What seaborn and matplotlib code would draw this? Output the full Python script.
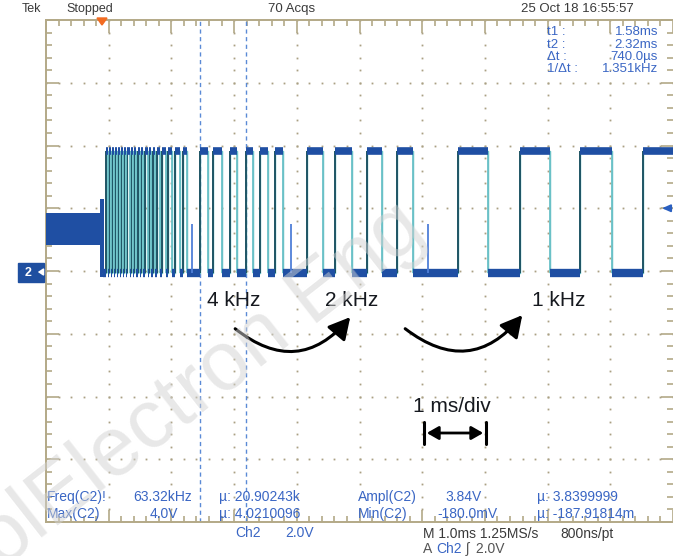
import numpy as np
import pandas as pd
import matplotlib
matplotlib.use("Agg")
import matplotlib.pyplot as plt
import seaborn as sns
from matplotlib import font_manager
from matplotlib.patches import FancyArrowPatch, Rectangle, Polygon

# ---------------- data (time in ms from trigger, volts) ----------------
high_start_ms = [0.080, 0.128, 0.175, 0.223, 0.271, 0.319, 0.367, 0.415, 0.478, 0.534,
                 0.590, 0.646, 0.702, 0.766, 0.829, 0.893, 0.973, 1.069, 1.180, 1.308,
                 1.579, 1.786, 2.057, 2.313, 2.536, 2.775,
                 3.285, 3.732, 4.242, 4.721,
                 5.694, 6.683, 7.640, 8.644]
high_end_ms = [0.112, 0.159, 0.207, 0.255, 0.303, 0.351, 0.399, 0.455, 0.510, 0.566,
               0.622, 0.678, 0.742, 0.805, 0.869, 0.941, 1.037, 1.140, 1.260, 1.372,
               1.707, 1.930, 2.169, 2.424, 2.663, 2.903,
               3.541, 4.003, 4.482, 4.976,
               6.172, 7.161, 8.150, 9.300]
high_v = 3.82
low_v = -0.05
signal_start_ms = 0.03
pre_noise_t = [-0.877, 0.03]
pre_noise_lo = [0.83, 0.83]
pre_noise_hi = [1.85, 1.85]
glitch_ms = [1.451, 3.030, 5.215]
glitch_top_v = 1.5
cursor_ms = [1.58, 2.32]
trigger_level_v = 2.0
annot_labels = ["4 kHz", "2 kHz", "1 kHz"]

# ---------------- style ----------------
sns.set_style("white")
names = {f.name for f in font_manager.fontManager.ttflist}
NARROW = "Liberation Sans Narrow" if "Liberation Sans Narrow" in names else "Liberation Sans"
plt.rcParams["font.family"] = ["Liberation Sans", "DejaVu Sans"]

W, H = 673, 556
fig = plt.figure(figsize=(W / 100, H / 100), dpi=100)
fig.patch.set_facecolor("white")


def P(x, y):
    return (x / W, 1 - y / H)


ax = fig.add_axes([46 / W, 1 - 522 / H, 627 / W, 502 / H])
x0 = -0.877
ax.set_xlim(x0, x0 + 10)
ax.set_ylim(-8, 8)

tan = "#b3a987"
for s in ax.spines.values():
    s.set_color(tan)
    s.set_linewidth(1.4)
ax.spines["right"].set_visible(False)
ax.set_xticks(x0 + np.arange(11))
ax.set_xticks(x0 + np.arange(51) / 5, minor=True)
ax.set_yticks(np.arange(-8, 8.1, 2))
ax.set_yticks(np.arange(-8, 8.01, 0.4), minor=True)
ax.tick_params(which="both", direction="in", top=True, right=True, bottom=True, left=True,
               labelbottom=False, labelleft=False, color=tan, width=1.2)
ax.tick_params(which="major", length=9)
ax.tick_params(which="minor", length=4)

# graticule dots
dx, dy = [], []
for k in range(1, 10):
    for j in range(0, 41):
        dx.append(x0 + k)
        dy.append(-8 + j * 0.4)
for k in range(1, 8):
    for j in range(0, 51):
        dx.append(x0 + j / 5)
        dy.append(-8 + 2 * k)
ax.plot(dx, dy, ls="none", marker="s", ms=1.3, mew=0, color="#aaa083", zorder=1)

# cursors
for c in cursor_ms:
    ax.axvline(c, color="#5b8ad6", lw=1.0, ls=(0, (3, 2.5)), zorder=2)

# ---------------- waveform ----------------
blue = "#1f4fa3"
ax.fill_between(pre_noise_t, pre_noise_lo, pre_noise_hi, color=blue, lw=0, zorder=3)
ax.fill_between([-0.01, 0.05], [-0.2, -0.2], [2.3, 2.3], color=blue, lw=0, zorder=3)

t = [signal_start_ms]
v = [low_v]
for s, e in zip(high_start_ms, high_end_ms):
    t += [s, s, e, e]
    v += [low_v, high_v, high_v, low_v]
df = pd.DataFrame({"t": t, "v": v})
sns.lineplot(data=df, x="t", y="v", sort=False, estimator=None, color="#5fb8bf", lw=1.0,
             ax=ax, zorder=4)

ax.vlines(high_start_ms, low_v, high_v, color="#1f5565", lw=1.4, zorder=5)
ax.vlines(high_end_ms, low_v, high_v, color="#6cc2c8", lw=1.3, zorder=5)
ax.hlines([high_v] * len(high_start_ms), high_start_ms, high_end_ms, color=blue, lw=5.5,
          zorder=6)
low_starts = [signal_start_ms] + high_end_ms[:-1]
low_ends = high_start_ms
ax.hlines([low_v] * len(low_starts), low_starts, low_ends, color=blue, lw=6, zorder=6)
ax.vlines(glitch_ms, low_v, glitch_top_v, color="#4f7fd8", lw=1.3, zorder=6)
ax.set_xlabel("")
ax.set_ylabel("")

# trigger level arrow (right)
ax.annotate("", xy=(x0 + 9.78, trigger_level_v), xytext=(x0 + 10.02, trigger_level_v),
            arrowprops=dict(arrowstyle="-|>,head_length=0.5,head_width=0.22", color="#2a5fc0",
                            lw=1.3), annotation_clip=False, zorder=7)

# ---------------- ground marker and trigger position ----------------
fig.patches.append(Rectangle(P(18, 282), 26 / W, 19 / H, transform=fig.transFigure,
                             color="#1f4fa0", zorder=5))
fig.text(*P(28, 272.5), "2", color="white", fontsize=9, fontweight="bold", ha="center",
         va="center", family=[NARROW, "DejaVu Sans"], zorder=9)
fig.patches.append(FancyArrowPatch(P(44, 272), P(35, 272), transform=fig.transFigure,
                                   arrowstyle="-|>,head_length=3,head_width=2", color="white",
                                   lw=1.2, zorder=9))
fig.patches.append(Polygon([P(97, 18), P(107, 18), P(102, 25)], closed=True,
                           transform=fig.transFigure, color="#f26b21", zorder=6))

# ---------------- top bar texts ----------------
top_c = "#3a3a3a"
fkw = dict(family=[NARROW, "DejaVu Sans"], va="center")
fig.text(*P(22, 9), "Tek", color=top_c, fontsize=9, **fkw)
fig.text(*P(66, 9), "Stopped", color=top_c, fontsize=9, **fkw)
fig.text(*P(268, 9), "70 Acqs", color=top_c, fontsize=9.5, **fkw)
fig.text(*P(521, 9), "25 Oct 18 16:55:57", color=top_c, fontsize=9.5, **fkw)

# cursor readouts
rc = "#3a66c4"
cur_labels = ["t1 :", "t2 :", "\u0394t :", "1/\u0394t :"]
cur_vals = ["1.58ms", "2.32ms", "740.0\u00b5s", "1.351kHz"]
for i, (lab, val) in enumerate(zip(cur_labels, cur_vals)):
    y = 32 + i * 12.5
    fig.text(*P(547, y), lab, color=rc, fontsize=9.5, **fkw)
    fig.text(*P(658, y), val, color=rc, fontsize=9.5, ha="right",
             family=[NARROW, "DejaVu Sans"], va="center")

# bottom measurement readouts
meas = [
    (47, 497, "Freq(C2)!"), (133, 497, "63.32kHz"), (219, 497, "\u00b5: 20.90243k"),
    (358, 497, "Ampl(C2)"), (445, 497, "3.84V"), (537, 497, "\u00b5: 3.8399999"),
    (47, 514, "Max(C2)"), (150, 514, "4.0V"), (219, 514, "\u00b5: 4.0210096"),
    (358, 514, "Min(C2)"), (437, 514, "-180.0mV"), (537, 514, "\u00b5: -187.91814m"),
]
for x, y, s in meas:
    fig.text(*P(x, y), s, color=rc, fontsize=10, **fkw)

fig.text(*P(235, 533), "Ch2", color=rc, fontsize=10, **fkw)
fig.text(*P(285, 533), "2.0V", color=rc, fontsize=10, **fkw)
fig.text(*P(423, 534), "M 1.0ms 1.25MS/s", color=top_c, fontsize=10, **fkw)
fig.text(*P(560, 534), "800ns/pt", color=top_c, fontsize=10, **fkw)
fig.text(*P(423, 549), "A", color="#555555", fontsize=10, **fkw)
fig.text(*P(436, 549), "Ch2", color=rc, fontsize=10, **fkw)
fig.text(*P(466, 549), "\u0283  2.0V", color="#555555", fontsize=10, **fkw)

# ---------------- annotations ----------------
ac = "#16191f"
fig.text(*P(207, 301), annot_labels[0], color=ac, fontsize=15, va="center")
fig.text(*P(325, 301), annot_labels[1], color=ac, fontsize=15, va="center")
fig.text(*P(532, 301), annot_labels[2], color=ac, fontsize=15, va="center")
fig.text(*P(413, 407), "1 ms/div", color=ac, fontsize=15, va="center")

for a, b in [((233, 327), (352, 315)), ((403, 327), (524, 313))]:
    fig.patches.append(FancyArrowPatch(P(*a), P(*b), transform=fig.transFigure,
                                       connectionstyle="arc3,rad=0.5",
                                       arrowstyle="-|>,head_length=13,head_width=7",
                                       color="black", lw=2.2, zorder=8))

fig.patches.append(FancyArrowPatch(P(424, 433), P(486, 433), transform=fig.transFigure,
                                   arrowstyle="<|-|>,head_length=7,head_width=4",
                                   color="black", lw=2.0, zorder=8))
for xb in (423.5, 486):
    fig.lines.append(plt.Line2D([xb / W, xb / W], [1 - 422 / H, 1 - 444 / H],
                                transform=fig.transFigure, color="black", lw=2.2, zorder=8))

# watermark
fig.text(*P(2, 570), "olElectron Eng", rotation=38, rotation_mode="anchor", ha="left",
         va="baseline", fontsize=60, color="#d2d2d2", alpha=0.5, zorder=20)

fig.savefig("out.png", dpi=100)
